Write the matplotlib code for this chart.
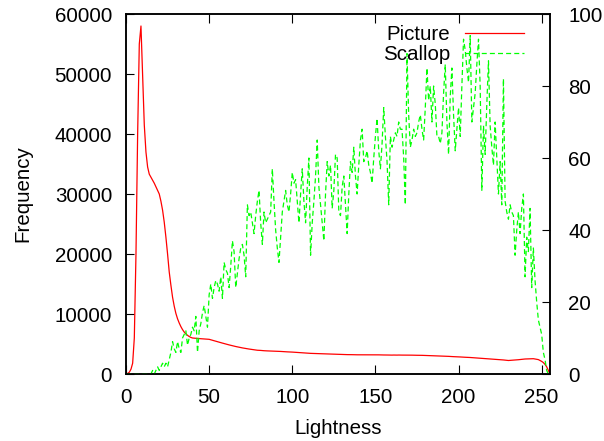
"""Lightness histogram: picture frequency (left axis) vs scallop (right axis)."""

import matplotlib

matplotlib.use("Agg")
import matplotlib.pyplot as plt
import numpy as np

plt.rcParams["font.family"] = ["Liberation Sans", "DejaVu Sans"]

lightness = np.arange(256)

picture = [
    0, 100, 300, 800, 1800, 6000, 20000, 40000, 55000, 58000,
    50000, 41500, 37000, 34500, 33300, 32800, 32300, 31800, 31200, 30600,
    30000, 28800, 27300, 25300, 22800, 20000, 17000, 14800, 12800, 11300,
    10100, 9200, 8500, 7900, 7400, 7000, 6700, 6450, 6250, 6100,
    6000, 5980, 5950, 5920, 5900, 5880, 5860, 5840, 5820, 5800,
    5780, 5700, 5620, 5540, 5460, 5380, 5300, 5220, 5150, 5080,
    5000, 4920, 4850, 4780, 4700, 4640, 4580, 4520, 4460, 4400,
    4350, 4300, 4250, 4200, 4160, 4120, 4080, 4040, 4000, 3960,
    3950, 3930, 3900, 3880, 3860, 3850, 3840, 3830, 3820, 3810,
    3800, 3790, 3770, 3760, 3740, 3720, 3700, 3690, 3680, 3660,
    3650, 3630, 3610, 3590, 3570, 3550, 3530, 3510, 3490, 3470,
    3450, 3440, 3430, 3420, 3410, 3400, 3390, 3380, 3370, 3360,
    3350, 3340, 3330, 3320, 3310, 3300, 3290, 3280, 3270, 3260,
    3250, 3240, 3240, 3230, 3230, 3220, 3220, 3210, 3210, 3200,
    3200, 3200, 3200, 3210, 3200, 3200, 3190, 3200, 3200, 3200,
    3200, 3190, 3190, 3180, 3180, 3170, 3170, 3160, 3160, 3150,
    3150, 3160, 3150, 3150, 3160, 3150, 3150, 3150, 3140, 3150,
    3150, 3140, 3140, 3130, 3130, 3120, 3120, 3110, 3110, 3100,
    3100, 3090, 3080, 3070, 3060, 3050, 3040, 3030, 3020, 3010,
    3000, 2990, 2970, 2960, 2940, 2920, 2910, 2890, 2880, 2860,
    2850, 2840, 2820, 2810, 2790, 2780, 2760, 2750, 2730, 2720,
    2700, 2680, 2660, 2640, 2620, 2600, 2580, 2560, 2540, 2520,
    2500, 2480, 2460, 2440, 2420, 2400, 2370, 2340, 2310, 2280,
    2250, 2270, 2290, 2310, 2330, 2350, 2380, 2410, 2440, 2470,
    2500, 2510, 2520, 2530, 2540, 2550, 2500, 2450, 2400, 2250,
    2100, 1900, 1600, 1200, 600, 0,
]

scallop = [
    0, 0, 0, 0, 0, 0, 0, 0, 0, 0,
    0, 0, 0, 0, 0, 0, 1, 0, 1, 2,
    1, 2, 3, 2, 3, 2, 4, 6, 9, 7,
    6, 9, 7, 6, 10, 11, 12, 8, 10, 11,
    13, 12, 16, 6, 12, 14, 17, 19, 16, 13,
    22, 25, 21, 24, 26, 25, 23, 27, 21, 31,
    29, 28, 24, 30, 37, 34, 24, 28, 32, 35,
    36, 33, 27, 47, 44, 45, 42, 39, 44, 48,
    51, 42, 36, 45, 42, 43, 44, 45, 57, 48,
    40, 35, 31, 38, 45, 48, 51, 47, 45, 50,
    56, 53, 54, 48, 42, 50, 57, 48, 42, 52,
    60, 33, 42, 48, 55, 65, 52, 47, 42, 37,
    50, 59, 55, 58, 46, 51, 61, 60, 45, 44,
    52, 55, 47, 39, 50, 59, 56, 63, 55, 50,
    58, 65, 68, 59, 60, 62, 58, 56, 53, 60,
    66, 71, 62, 57, 64, 74, 66, 59, 47, 66,
    63, 65, 67, 66, 70, 68, 68, 60, 47, 89,
    72, 63, 65, 68, 66, 67, 70, 72, 68, 65,
    74, 85, 76, 80, 70, 80, 75, 66, 66, 64,
    67, 78, 86, 70, 61, 77, 85, 72, 62, 68,
    74, 66, 80, 93, 90, 85, 81, 94, 70, 74,
    78, 86, 93, 80, 51, 69, 61, 75, 87, 69,
    63, 58, 70, 60, 50, 59, 47, 82, 48, 45,
    43, 47, 45, 44, 33, 40, 45, 39, 46, 50,
    27, 38, 34, 46, 24, 35, 26, 20, 15, 13,
    11, 6, 4, 1, 0, 0,
]

fig = plt.figure(figsize=(6.04, 4.41), dpi=100)
ax = fig.add_axes([126 / 604, 67 / 441, 424 / 604, 360 / 441])
ax2 = ax.twinx()

l1, = ax.plot(lightness, picture, color="#ff0000", lw=0.9, label="Picture")
l2, = ax2.plot(lightness, scallop, color="#00ff00", lw=0.9, dashes=(4, 2.5),
               label="Scallop")

ax.set_xlim(0, 255)
ax.set_ylim(0, 60000)
ax2.set_ylim(0, 100)
ax.set_xticks(np.arange(0, 251, 50))
ax.set_yticks(np.arange(0, 60001, 10000))
ax2.set_yticks(np.arange(0, 101, 20))

fs = 14.8
ax.tick_params(axis="x", direction="in", length=6.5, width=0.8, top=True,
               labelsize=fs, pad=10)
ax.tick_params(axis="y", direction="in", length=6, width=0.8,
               labelsize=fs, pad=10)
ax2.tick_params(axis="y", direction="in", length=6, width=0.8,
                labelsize=fs, pad=13)
for a in (ax, ax2):
    for s in a.spines.values():
        s.set_linewidth(1.1)

ax.set_xlabel("Lightness", fontsize=fs, labelpad=9)
ax.set_ylabel("Frequency", fontsize=fs, labelpad=16)

ax2.legend(handles=[l1, l2], loc="upper right", frameon=False, fontsize=fs,
           markerfirst=False, handlelength=2.9, handletextpad=0.7,
           labelspacing=0.05, borderaxespad=0, bbox_to_anchor=(0.959, 0.993))

fig.savefig("out.png", dpi=100)
